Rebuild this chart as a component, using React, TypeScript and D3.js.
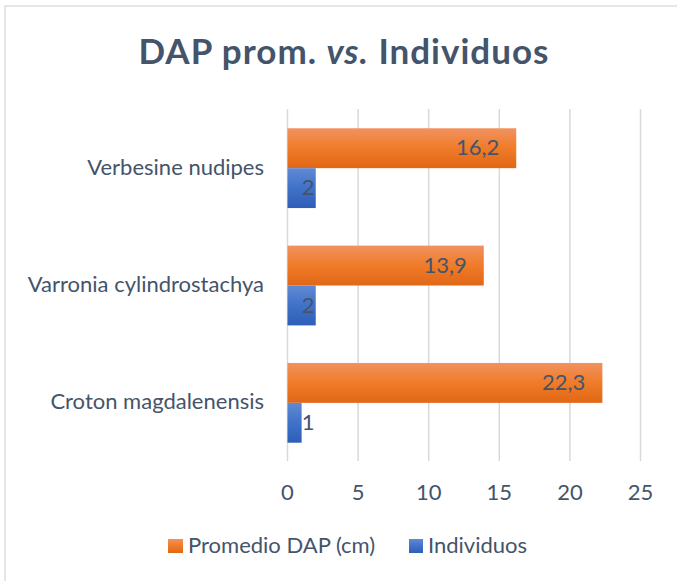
import React from "react";
import * as d3 from "d3";

const categories = ["Verbesine nudipes", "Varronia cylindrostachya", "Croton magdalenensis"];
const dapValues = [16.2, 13.9, 22.3];
const indivValues = [2, 2, 1];
const seriesNames = ["Promedio DAP (cm)", "Individuos"];
const ticks = [0, 5, 10, 15, 20, 25];

const W = 677, H = 581;
const FONT = "Lato, 'Open Sans', sans-serif";
const TXT = "#44546A";
const FS = 22;

export default function App() {
  const x = d3.scaleLinear().domain([0, 25]).range([287.5, 640.5]);
  const y = d3.scaleBand().domain(categories).range([109.5, 461.5]).paddingInner(0.32).paddingOuter(0.16);
  const sub = d3.scaleBand().domain(seriesNames).range([0, y.bandwidth()]);
  const fmt = (v: number) => String(v).replace(".", ",");
  return (
    <svg width={W} height={H} style={{ position: "absolute", left: 0, top: 0 }} fontFamily={FONT}>
      <defs>
        <linearGradient id="gO" x1="0" y1="0" x2="0" y2="1">
          <stop offset="0" stopColor="#F19260" />
          <stop offset="0.5" stopColor="#F07B28" />
          <stop offset="1" stopColor="#E06716" />
        </linearGradient>
        <linearGradient id="gB" x1="0" y1="0" x2="0" y2="1">
          <stop offset="0" stopColor="#6189D4" />
          <stop offset="0.5" stopColor="#4072C8" />
          <stop offset="1" stopColor="#2E5EB8" />
        </linearGradient>
      </defs>
      <rect x={0} y={0} width={W} height={H} fill="#fff" />
      <rect x={5} y={6} width={W} height={H} fill="#fff" stroke="#D9D9D9" strokeWidth={1.3} />
      <text x={344} y={64} textAnchor="middle" fontSize={35} fontWeight="bold" fill={TXT} letterSpacing={1}>
        DAP prom. <tspan fontStyle="italic">vs.</tspan> Individuos
      </text>
      {ticks.map((t) => (
        <g key={t}>
          <line x1={x(t)} x2={x(t)} y1={109} y2={461} stroke="#D9D9D9" strokeWidth={1.5} />
          <text x={x(t)} y={500} textAnchor="middle" fontSize={FS} fill={TXT}>{t}</text>
        </g>
      ))}
      {categories.map((c, i) => {
        const y0 = y(c)!;
        const oy = y0 + sub(seriesNames[0])!;
        const by = y0 + sub(seriesNames[1])!;
        const h = sub.bandwidth();
        const oEnd = x(dapValues[i]);
        const bEnd = x(indivValues[i]);
        return (
          <g key={c}>
            <text x={264} y={y0 + y.bandwidth() / 2} dy="0.3em" textAnchor="end" fontSize={FS} fill={TXT}>{c}</text>
            <rect x={x(0)} y={oy} width={oEnd - x(0)} height={h} fill="url(#gO)" />
            <rect x={x(0)} y={by} width={bEnd - x(0)} height={h} fill="url(#gB)" />
            <text x={oEnd - 17} y={oy + h / 2} dy="0.33em" textAnchor="end" fontSize={FS} fill={TXT}>{fmt(dapValues[i])}</text>
            <text x={Math.max(bEnd - 2, x(0) + 27)} y={by + h / 2} dy="0.33em" textAnchor="end" fontSize={FS} fill={TXT}>{fmt(indivValues[i])}</text>
          </g>
        );
      })}
      <rect x={168} y={539} width={15} height={14} fill="url(#gO)" />
      <text x={188} y={553} fontSize={FS} fill={TXT}>{seriesNames[0]}</text>
      <rect x={409} y={539} width={14} height={14} fill="url(#gB)" />
      <text x={428} y={553} fontSize={FS} fill={TXT}>{seriesNames[1]}</text>
    </svg>
  );
}
